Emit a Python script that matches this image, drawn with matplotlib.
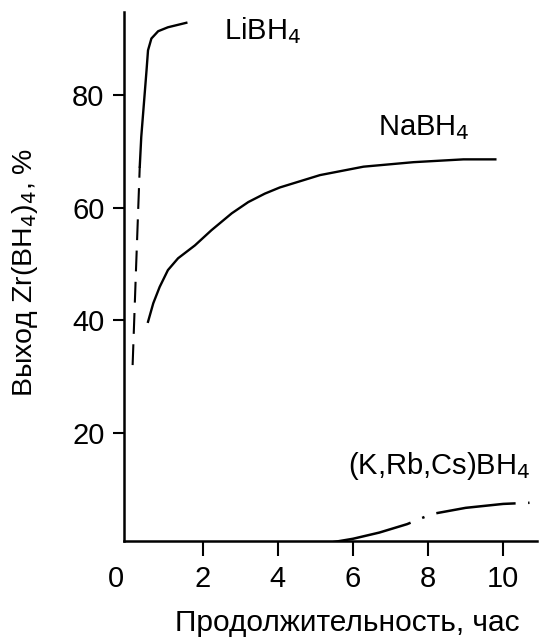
import matplotlib
matplotlib.use("Agg")
import matplotlib.pyplot as plt
import matplotlib.transforms as mtransforms

plt.rcParams['font.family'] = ['Liberation Sans', 'DejaVu Sans']

# LiBH4: dashed start, then solid
li_dash_x = [0.13, 0.22, 0.32]
li_dash_y = [32.0, 49.0, 67.3]
li_x = [0.32, 0.36, 0.43, 0.50, 0.54, 0.63, 0.81, 1.07, 1.56]
li_y = [67.3, 72.6, 78.5, 84.4, 88.0, 90.1, 91.4, 92.1, 92.9]

# NaBH4
na_x = [0.54, 0.68, 0.85, 1.07, 1.34, 1.79, 2.23, 2.77, 3.21, 3.65,
        4.05, 5.12, 6.28, 7.61, 8.94, 9.79]
na_y = [39.7, 43.0, 45.9, 48.9, 51.0, 53.3, 56.0, 59.0, 61.0, 62.5,
        63.6, 65.8, 67.3, 68.1, 68.6, 68.6]

# (K,Rb,Cs)BH4
k_x = [5.47, 6.0, 6.7, 7.44, 7.84, 8.1, 9.0, 10.0, 10.7]
k_y = [0.5, 1.1, 2.2, 3.7, 4.8, 5.5, 6.6, 7.3, 7.5]

xticks = [0, 2, 4, 6, 8, 10]
yticks = [20, 40, 60, 80]

fig = plt.figure(figsize=(5.55, 6.37), dpi=100)
ax = fig.add_axes([0.2234, 0.1507, 0.9676 - 0.2234, 0.981 - 0.1507])

ax.plot(li_dash_x, li_dash_y, color='black', lw=1.5, dashes=(10, 5))
ax.plot(li_x, li_y, color='black', lw=1.7)
ax.plot(na_x, na_y, color='black', lw=1.7)
ax.plot(k_x, k_y, color='black', lw=1.8, dashes=(32, 5, 1, 5))

fs = 21
ax.text(2.56, 91.5, 'LiBH$_4$', fontsize=fs, va='center', ha='left')
ax.text(6.67, 74.3, 'NaBH$_4$', fontsize=fs, va='center', ha='left')
ax.text(5.87, 14.0, '(K,Rb,Cs)BH$_4$', fontsize=fs, va='center', ha='left')

ax.set_xlim(-0.1, 10.9)
ax.set_ylim(0.7, 94.8)
ax.set_xticks(xticks)
ax.set_yticks(yticks)
ax.tick_params(axis='y', direction='out', length=8, width=1.5, labelsize=fs, pad=6)
ax.tick_params(axis='x', direction='out', length=11, width=1.5, labelsize=fs, pad=6)
# no tick mark at 0 on the x axis, label sits a bit left
ax.xaxis.get_major_ticks()[0].tick1line.set_visible(False)
fig.canvas.draw()
lbl0 = ax.get_xticklabels()[0]
lbl0.set_transform(lbl0.get_transform() +
                   mtransforms.ScaledTranslation(-0.12, 0, fig.dpi_scale_trans))

for s in ['top', 'right']:
    ax.spines[s].set_visible(False)
for s in ['left', 'bottom']:
    ax.spines[s].set_linewidth(1.8)

# axis titles placed in figure coords (the x title sits at the very bottom edge)
fig.text(0.625, 0.0095, 'Продолжительность, час', fontsize=21.5,
         ha='center', va='baseline')
fig.text(0.045, 0.573, 'Выход Zr(BH$_4$)$_4$, %', fontsize=20.5,
         rotation=90, ha='center', va='center')

fig.savefig('out.png', dpi=100)
